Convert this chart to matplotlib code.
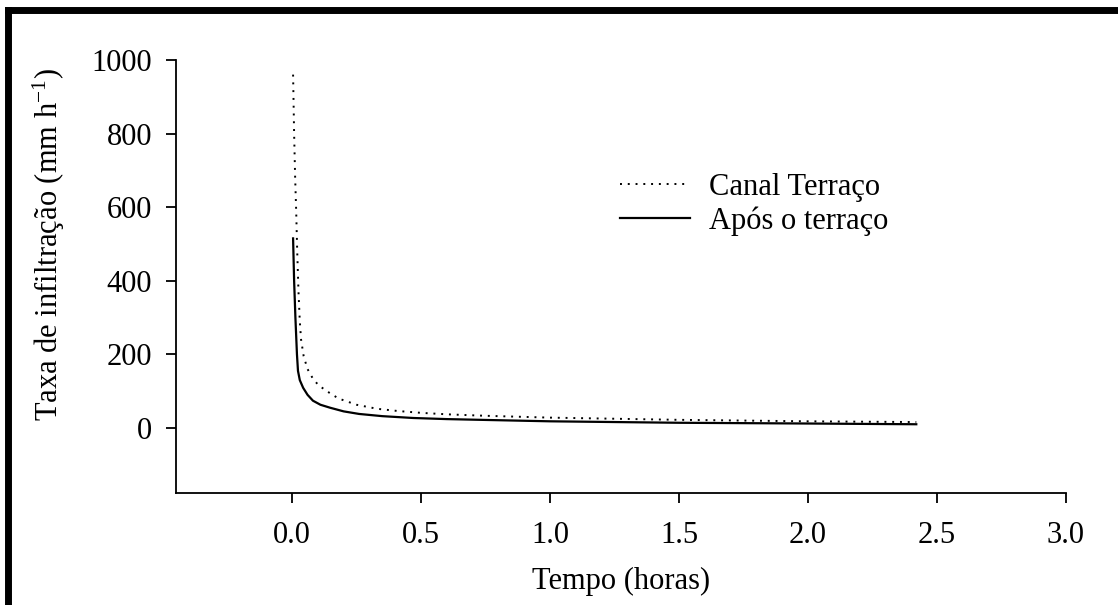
import matplotlib
matplotlib.use("Agg")
import matplotlib.pyplot as plt
from matplotlib.lines import Line2D

plt.rcParams['font.family'] = ['Liberation Serif', 'DejaVu Serif']
plt.rcParams['mathtext.fontset'] = 'custom'
plt.rcParams['mathtext.rm'] = 'Liberation Serif'
plt.rcParams['mathtext.it'] = 'Liberation Serif:italic'

# infiltration rate (mm/h) against time (h)
t_canal = [0.004, 0.008, 0.012, 0.016, 0.020, 0.025, 0.030, 0.035, 0.045, 0.06,
           0.08, 0.10, 0.13, 0.18, 0.25, 0.33, 0.41, 0.50, 0.60, 0.75,
           1.0, 1.25, 1.5, 1.75, 2.0, 2.2, 2.42]
v_canal = [960, 800, 680, 590, 480, 370, 290, 240, 195, 160,
           135, 118, 102, 80, 63, 52, 46, 41, 37, 33,
           28, 25, 22, 20, 18, 17, 16]

t_apos = [0.004, 0.008, 0.013, 0.019, 0.023, 0.03, 0.043, 0.06, 0.081, 0.11,
          0.147, 0.2, 0.26, 0.35, 0.47, 0.6, 0.73, 1.0, 1.25, 1.5,
          1.75, 2.0, 2.2, 2.42]
v_apos = [515, 400, 300, 200, 155, 130, 109, 90, 74, 63,
          55, 45, 38, 32, 27, 24, 22, 18, 16, 14,
          13, 12, 11, 10]

x_ticks = [0.0, 0.5, 1.0, 1.5, 2.0, 2.5, 3.0]
y_ticks = [0, 200, 400, 600, 800, 1000]

fs = 22

fig = plt.figure(figsize=(11.18, 6.05), dpi=100)
ax = fig.add_axes([0.1574, 0.185, 0.796, 0.716])

ax.plot(t_canal, v_canal, color='black', lw=1.4, linestyle=(0, (1, 3)), label='Canal Terraço')
ax.plot(t_apos, v_apos, color='black', lw=1.6, label='Após o terraço')

ax.set_xlim(-0.45, 3.0)
ax.set_ylim(-177, 1000)
ax.set_xticks(x_ticks)
ax.set_xticklabels(['%.1f' % v for v in x_ticks])
ax.set_yticks(y_ticks)

for s in ['top', 'right']:
    ax.spines[s].set_visible(False)
for s in ['left', 'bottom']:
    ax.spines[s].set_linewidth(1.3)

ax.tick_params(axis='both', direction='out', length=7, width=1.3, labelsize=fs)
ax.tick_params(axis='x', pad=13)
ax.tick_params(axis='y', pad=10)

ax.set_xlabel('Tempo (horas)', fontsize=fs, labelpad=12)
ax.set_ylabel('Taxa de infiltração (mm h$^{\\mathrm{-1}}$)', fontsize=fs)
# label centred on the 0-1000 span rather than the whole axis
ax.yaxis.set_label_coords(-0.123, 0.573)

ax.legend(loc='upper left', bbox_to_anchor=(0.499, 0.739), frameon=False, fontsize=fs,
          handlelength=2.3, handletextpad=0.6, labelspacing=0.15,
          borderpad=0, borderaxespad=0)

# thick frame round the figure
fig.add_artist(Line2D([0.0075, 0.0075], [-0.1, 0.9836], transform=fig.transFigure,
                      color='black', lw=5.0, solid_capstyle='projecting'))
fig.add_artist(Line2D([0.0075, 1.1], [0.9836, 0.9836], transform=fig.transFigure,
                      color='black', lw=5.0, solid_capstyle='projecting'))

fig.savefig('out.png', dpi=100)
